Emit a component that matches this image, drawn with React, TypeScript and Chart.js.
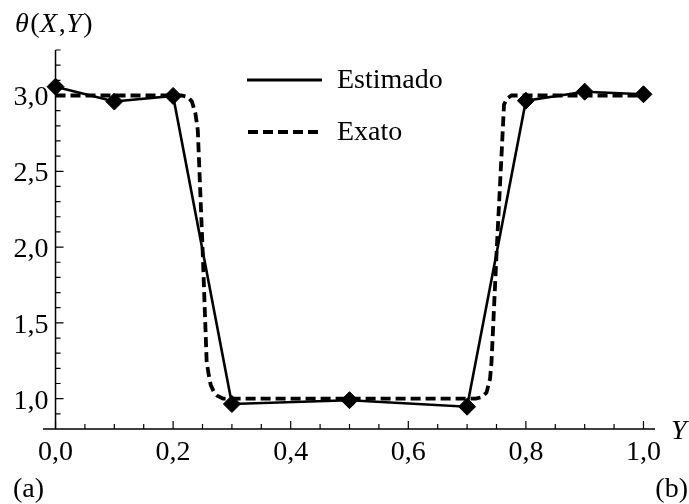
import React, { useEffect, useRef } from "react";
import { Chart, registerables } from "chart.js";

Chart.register(...registerables);

// Estimado (solid line with diamond markers)
const estX = [0, 0.1, 0.2, 0.3, 0.5, 0.7, 0.8, 0.9, 1.0];
const estY = [3.058, 2.96, 2.997, 0.965, 0.99, 0.947, 2.966, 3.025, 3.008];

// Exato (dashed curve)
const exX = [
  0, 0.1, 0.2, 0.214, 0.225, 0.232, 0.238, 0.242, 0.25, 0.257, 0.26, 0.264, 0.27, 0.275, 0.285,
  0.4, 0.5, 0.6, 0.715, 0.725, 0.733, 0.739, 0.7415, 0.75, 0.759, 0.7628, 0.768, 0.7755, 0.79,
  0.9, 1.0,
];
const exY = [
  3.0, 3.0, 3.0, 3.0, 2.99, 2.96, 2.88, 2.77, 2.0, 1.25, 1.17, 1.09, 1.04, 1.02, 1.0,
  1.0, 1.0, 1.0, 1.0, 1.01, 1.04, 1.13, 1.24, 1.95, 2.64, 2.94, 2.98, 3.0, 3.0,
  3.0, 3.0,
];

const xMajorTicks = [0, 0.2, 0.4, 0.6, 0.8, 1.0];
const xTickLabels = ["0,0", "0,2", "0,4", "0,6", "0,8", "1,0"];
const xMinorTicks = [0.05, 0.1, 0.15, 0.25, 0.3, 0.35, 0.45, 0.5, 0.55, 0.65, 0.7, 0.75, 0.85, 0.9, 0.95];
const yMajorTicks = [1.0, 1.5, 2.0, 2.5, 3.0];
const yTickLabels = ["1,0", "1,5", "2,0", "2,5", "3,0"];
const yMinorTicks = [0.9, 1.1, 1.2, 1.3, 1.4, 1.6, 1.7, 1.8, 1.9, 2.1, 2.2, 2.3, 2.4, 2.6, 2.7, 2.8, 2.9, 3.1, 3.2, 3.3];

const legendLabels = ["Estimado", "Exato"];

const FONT = '28px "Liberation Serif", "Times New Roman", serif';
const IFONT = 'italic 28px "Liberation Serif", "Times New Roman", serif';

const axesPlugin = {
  id: "mathAxes",
  beforeDatasetsDraw(chart: any) {
    const ctx = chart.ctx as CanvasRenderingContext2D;
    const xs = chart.scales.x;
    const ys = chart.scales.y;
    const area = chart.chartArea;
    const x0 = xs.getPixelForValue(0);
    const yb = area.bottom;
    ctx.save();
    ctx.strokeStyle = "#000";
    ctx.lineWidth = 1.5;
    ctx.beginPath();
    ctx.moveTo(area.left, yb);
    ctx.lineTo(area.right, yb);
    ctx.moveTo(x0, area.top);
    ctx.lineTo(x0, yb);
    ctx.stroke();
    ctx.lineWidth = 1.2;
    ctx.beginPath();
    xMajorTicks.forEach((v) => {
      const px = xs.getPixelForValue(v);
      ctx.moveTo(px, yb);
      ctx.lineTo(px, yb - 8);
    });
    xMinorTicks.forEach((v) => {
      const px = xs.getPixelForValue(v);
      ctx.moveTo(px, yb);
      ctx.lineTo(px, yb - 5);
    });
    yMajorTicks.forEach((v) => {
      const py = ys.getPixelForValue(v);
      ctx.moveTo(x0, py);
      ctx.lineTo(x0 + 8, py);
    });
    yMinorTicks.forEach((v) => {
      const py = ys.getPixelForValue(v);
      ctx.moveTo(x0, py);
      ctx.lineTo(x0 + 5, py);
    });
    ctx.stroke();

    ctx.fillStyle = "#000";
    ctx.font = FONT;
    ctx.textBaseline = "alphabetic";
    ctx.textAlign = "center";
    xMajorTicks.forEach((v, i) => {
      ctx.fillText(xTickLabels[i], xs.getPixelForValue(v), yb + 31);
    });
    ctx.textAlign = "right";
    yMajorTicks.forEach((v, i) => {
      ctx.fillText(yTickLabels[i], x0 - 7, ys.getPixelForValue(v) + 10);
    });
    ctx.restore();
  },
  afterDraw(chart: any) {
    const ctx = chart.ctx as CanvasRenderingContext2D;
    ctx.save();
    ctx.fillStyle = "#000";
    ctx.strokeStyle = "#000";
    ctx.textBaseline = "alphabetic";
    ctx.textAlign = "left";

    // y axis title θ(X,Y)
    const parts: [string, boolean][] = [
      ["θ", true],
      ["(", false],
      ["X", true],
      [",", false],
      ["Y", true],
      [")", false],
    ];
    let cx = 15;
    parts.forEach(([t, it]) => {
      ctx.font = it ? IFONT : FONT;
      ctx.fillText(t, cx, 32);
      cx += ctx.measureText(t).width + (it ? 1.5 : 0.5);
    });

    // x axis title
    ctx.font = IFONT;
    ctx.fillText("Y", 671, 439);

    // panel labels
    ctx.font = FONT;
    ctx.fillText("(a)", 13, 497);
    ctx.textAlign = "right";
    ctx.fillText("(b)", 688, 497);

    // legend
    ctx.textAlign = "left";
    ctx.lineWidth = 2.8;
    ctx.setLineDash([]);
    ctx.beginPath();
    ctx.moveTo(247, 80);
    ctx.lineTo(322, 80);
    ctx.stroke();
    ctx.lineWidth = 3.8;
    ctx.setLineDash([10, 5]);
    ctx.beginPath();
    ctx.moveTo(248, 132);
    ctx.lineTo(318, 132);
    ctx.stroke();
    ctx.setLineDash([]);
    ctx.font = FONT;
    ctx.fillText(legendLabels[0], 337, 88);
    ctx.fillText(legendLabels[1], 337, 140);
    ctx.restore();
  },
};

export default function App() {
  const ref = useRef<HTMLCanvasElement | null>(null);
  useEffect(() => {
    if (!ref.current) return;
    const chart = new Chart(ref.current, {
      type: "line",
      data: {
        datasets: [
          {
            label: legendLabels[0],
            data: estX.map((x, i) => ({ x, y: estY[i] })),
            borderColor: "#000",
            backgroundColor: "#000",
            borderWidth: 2.6,
            pointStyle: "rectRot",
            pointRadius: 8.5,
            pointBorderWidth: 1,
            pointBackgroundColor: "#000",
            pointBorderColor: "#000",
            tension: 0,
            clip: false as any,
          },
          {
            label: legendLabels[1],
            data: exX.map((x, i) => ({ x, y: exY[i] })),
            borderColor: "#000",
            borderWidth: 3.8,
            borderDash: [10, 5],
            pointRadius: 0,
            tension: 0,
            clip: false as any,
          },
        ],
      },
      options: {
        animation: false,
        responsive: false,
        devicePixelRatio: 1,
        layout: { padding: { left: 43, right: 34, top: 50, bottom: 75 } },
        plugins: { legend: { display: false }, tooltip: { enabled: false } },
        events: [],
        scales: {
          x: { type: "linear", display: false, min: -0.0213, max: 1.0196 },
          y: { type: "linear", display: false, min: 0.8, max: 3.3 },
        },
      },
      plugins: [axesPlugin],
    });
    return () => chart.destroy();
  }, []);
  return (
    <div style={{ position: "absolute", left: 0, top: 0, width: 689, height: 504, background: "#fff" }}>
      <canvas ref={ref} width={689} height={504} />
    </div>
  );
}
